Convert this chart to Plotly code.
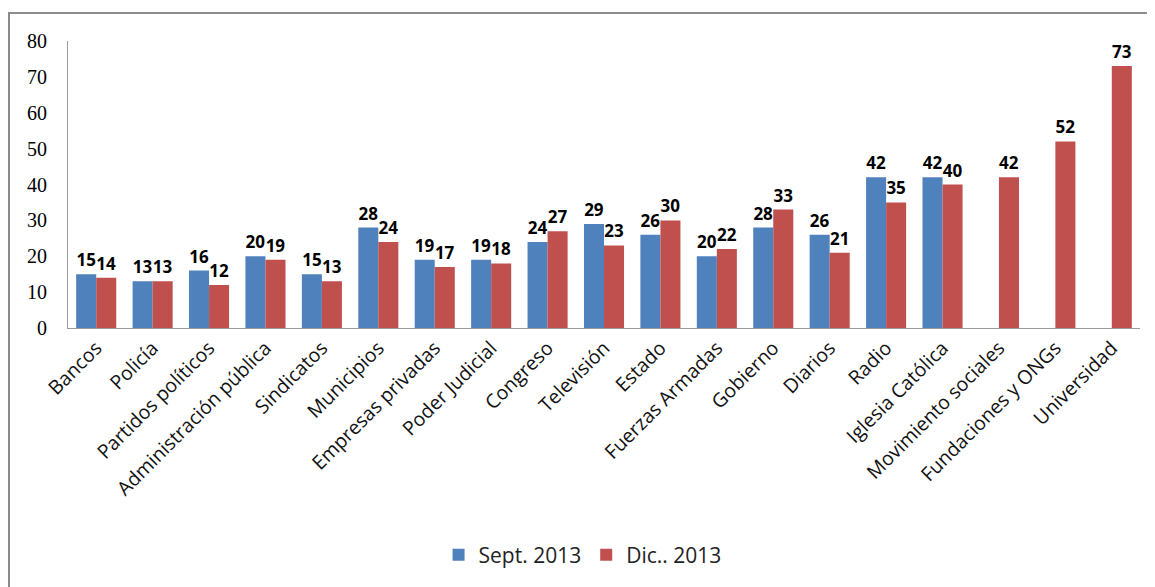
import plotly.graph_objects as go

# categorías y valores
categorias = ["Bancos", "Policía", "Partidos políticos", "Administración pública", "Sindicatos",
              "Municipios", "Empresas privadas", "Poder Judicial", "Congreso", "Televisión",
              "Estado", "Fuerzas Armadas", "Gobierno", "Diarios", "Radio", "Iglesia Católica",
              "Movimiento sociales", "Fundaciones y ONGs", "Universidad"]
sept_2013 = [15, 13, 16, 20, 15, 28, 19, 19, 24, 29, 26, 20, 28, 26, 42, 42, None, None, None]
dic_2013 = [14, 13, 12, 19, 13, 24, 17, 18, 27, 23, 30, 22, 33, 21, 35, 40, 42, 52, 73]

# la página tiene 8px de margen en el body
W, H = 1147, 579
L, R, T, B = 60, 15, 33, 259
pw, ph = W - L - R, H - T - B

fig = go.Figure()
fig.add_trace(go.Bar(x=categorias, y=sept_2013, name="Sept. 2013", marker_color="#4F81BD",
                     text=sept_2013, textposition="outside", cliponaxis=False))
fig.add_trace(go.Bar(x=categorias, y=dic_2013, name="Dic.. 2013", marker_color="#C0504D",
                     text=dic_2013, textposition="outside", cliponaxis=False))

fig.update_traces(textfont=dict(family="Open Sans", size=17, color="#000000"),
                  texttemplate="<b>%{text}</b>", marker_line_width=0)

fig.update_layout(
    width=W, height=H,
    margin=dict(l=L, r=R, t=T, b=B),
    plot_bgcolor="white", paper_bgcolor="white",
    barmode="group", bargap=0.29, bargroupgap=0,
    font=dict(family="Open Sans", color="#000000"),
    legend=dict(orientation="h", x=0.48, xanchor="center", y=(T + ph - 547) / ph, yanchor="middle",
                font=dict(size=21, family="Open Sans", color="#222222"), itemwidth=30,
                traceorder="normal"),
    showlegend=True,
)
fig.update_xaxes(tickangle=-45, tickfont=dict(size=19.5, color="#111111"), showline=True,
                 linecolor="#9a9a9a", linewidth=1, showgrid=False, ticks="")
fig.update_yaxes(range=[0, 80], dtick=10, showline=True, linecolor="#9a9a9a", linewidth=1,
                 showgrid=False, zeroline=False, ticks="", ticklabelstandoff=16,
                 tickfont=dict(family="Liberation Serif", size=20))

# marco del gráfico
fig.add_shape(type="rect", xref="paper", yref="paper",
              x0=(1 - L) / pw, x1=(W + 20 - L) / pw,
              y0=-(B + 20) / ph, y1=(T + ph - 5) / ph,
              line=dict(color="#8c8c8c", width=2), fillcolor="rgba(0,0,0,0)", layer="below")

fig.write_html("out.html")
